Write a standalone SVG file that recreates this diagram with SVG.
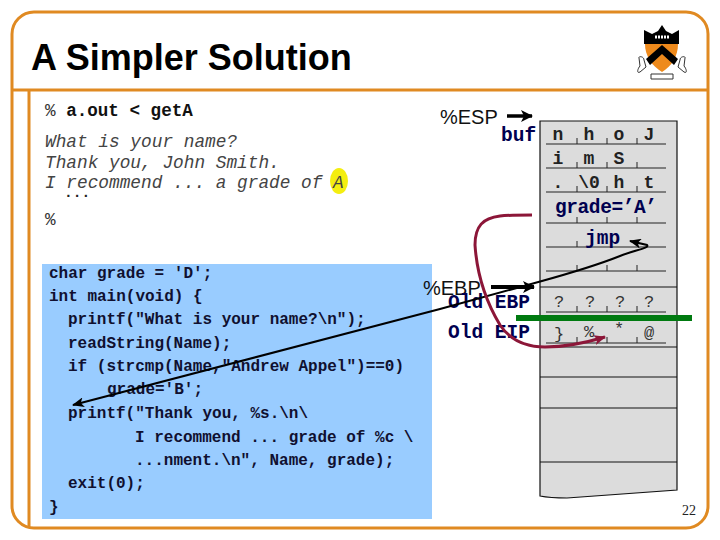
<svg xmlns="http://www.w3.org/2000/svg" width="720" height="540" viewBox="0 0 720 540">
<style>
.frame{fill:none;stroke:#e08a22;stroke-width:3}
.mono{font-family:"Liberation Mono",monospace}
.sans{font-family:"Liberation Sans",Arial,sans-serif}
.code{font-family:"Liberation Mono",monospace;font-size:16px;font-weight:bold;fill:#101030;white-space:pre}
.out{font-family:"Liberation Mono",monospace;font-size:17.8px;font-style:italic;fill:#444}
.navy{font-family:"Liberation Mono",monospace;font-size:19.5px;font-weight:bold;fill:#000050}
.cell{font-family:"Liberation Mono",monospace;font-size:18px;font-weight:bold;fill:#222;text-anchor:middle}
.thin{font-family:"Liberation Mono",monospace;font-size:17px;fill:#333;text-anchor:middle}
.reg{font-family:"Liberation Sans",Arial,sans-serif;font-size:20px;fill:#111}
.full{stroke:#111;stroke-width:1.2;fill:none}
.short{stroke:#222;stroke-width:1;fill:none}
</style>
<defs>
<marker id="blackHead" markerUnits="userSpaceOnUse" markerWidth="12" markerHeight="10" refX="11" refY="5" orient="auto-start-reverse"><path d="M0 0L12 5L0 10L3 5Z" fill="#000"/></marker>
<marker id="thickHead" markerUnits="userSpaceOnUse" markerWidth="12" markerHeight="12" refX="11" refY="6" orient="auto"><path d="M0 0L12 6L0 12L3 6Z" fill="#000"/></marker>
<marker id="redHead" markerUnits="userSpaceOnUse" markerWidth="12" markerHeight="10" refX="11" refY="5" orient="auto"><path d="M0 0L12 5L0 10L3 5Z" fill="#8c1638"/></marker>
</defs>
<rect width="720" height="540" fill="#fff"/>
<g id="frame">
<rect class="frame" x="12" y="12" width="696" height="516" rx="22"/>
<path class="frame" d="M12 90H708M29 90V528"/>
</g>
<text id="title" class="sans" x="31" y="70" font-size="36" font-weight="bold" fill="#000">A Simpler Solution</text>
<g id="logo">
<path d="M644 30L652 34L658 31L662 25L666 31L672 34L679 30V44H644Z" fill="#000"/>
<path d="M645 44H678C678 56 672 66 662 72C652 66 645 56 645 44Z" fill="#ee8a1c"/>
<path d="M646 59L662 45L678 59L674 65L662 54L650 65Z" fill="#000"/>
<path d="M655 37H669" stroke="#fff" stroke-width="3" stroke-dasharray="2 1"/>
<path d="M639 58C638 56 644 56 644 60L646 67L640 72C636 74 638 68 640 66ZM685 58C686 56 680 56 680 60L678 67L684 72C688 74 686 68 684 66ZM651 74H673V79H651Z" fill="#fff" stroke="#333" stroke-width="1"/>
</g>
<g id="terminal">
<ellipse cx="339" cy="181" rx="9" ry="13" fill="#f4ee10"/>
<text class="mono" x="45" y="116" font-size="17.6" fill="#333">% <tspan font-weight="bold" fill="#111">a.out &lt; getA</tspan></text>
<text class="out" x="45" y="147">What is your name?</text>
<text class="out" x="45" y="168">Thank you, John Smith.</text>
<text class="out" x="45" y="188">I recommend ... a grade of A</text>
<text class="mono" x="64" y="197" font-size="14.5" font-weight="bold" fill="#222">...</text>
<text class="mono" x="45" y="225" font-size="17.6" fill="#333">%</text>
</g>
<g id="code">
<rect x="42" y="264" width="390" height="255" fill="#99ccff"/>
<text class="code" x="49" y="278">char grade = 'D';</text>
<text class="code" x="49" y="301">int main(void) {</text>
<text class="code" x="68" y="324">printf("What is your name?\n");</text>
<text class="code" x="68" y="348">readString(Name);</text>
<text class="code" x="68" y="371">if (strcmp(Name,"Andrew Appel")==0)</text>
<text class="code" x="107" y="394">grade='B';</text>
<text class="code" x="68" y="418">printf("Thank you, %s.\n\</text>
<text class="code" x="135" y="442">I recommend ... grade of %c \</text>
<text class="code" x="135" y="465">...nment.\n", Name, grade);</text>
<text class="code" x="68" y="488">exit(0);</text>
<text class="code" x="49" y="512">}</text>
</g>
<g id="stack">
<path d="M540 121H677V490L567 498Q550 498 540 496Z" fill="#dcdcdc" stroke="#111" stroke-width="1.2"/>
<path class="full" d="M540 287H677M540 347H677M540 377H677M540 408H677M540 462H677"/>
<path class="short" d="M546 144H666M546 168H666M546 192H666M546 223H666M546 247H666M546 271H666M546 312H666M546 343H666"/>
<path class="short" d="M577 138V144M607 138V144M637 138V144M577 162V168M607 162V168M637 162V168M577 186V192M607 186V192M637 186V192M577 217V223M607 217V223M637 217V223M577 241V247M577 265V271M607 265V271M637 265V271M577 306V312M607 306V312M637 306V312M577 337V343M607 337V343M637 337V343"/>
<text class="cell" x="558" y="140">n</text><text class="cell" x="589" y="140">h</text><text class="cell" x="619" y="140">o</text><text class="cell" x="649" y="140">J</text>
<text class="cell" x="558" y="164">i</text><text class="cell" x="589" y="164">m</text><text class="cell" x="619" y="164">S</text>
<text class="cell" x="558" y="188">.</text><text class="cell" x="589" y="188">\0</text><text class="cell" x="619" y="188">h</text><text class="cell" x="649" y="188">t</text>
<text class="navy" x="555" y="213" textLength="102">grade=’A’</text>
<text class="navy" x="585" y="244">jmp</text>
<text class="thin" x="559" y="307">?</text><text class="thin" x="590" y="307">?</text><text class="thin" x="620" y="307">?</text><text class="thin" x="649" y="307">?</text>
<text class="thin" x="559" y="339">}</text><text class="thin" x="589" y="337">%</text><text class="thin" x="619" y="334">*</text><text class="thin" x="649" y="338">@</text>
</g>
<g id="labels">
<text class="reg" x="440" y="124">%ESP</text>
<text class="navy" x="501" y="141">buf</text>
<text class="reg" x="423" y="295">%EBP</text>
<text class="navy" x="448" y="308">Old EBP</text>
<text class="navy" x="448" y="338">Old EIP</text>
<text id="page" x="682" y="515" font-family="Liberation Serif,serif" font-size="14" fill="#222">22</text>
</g>
<rect id="green-bar" x="516" y="315" width="176" height="6" fill="#007a10"/>
<g id="connectors" fill="none">
<path d="M507 116H532" stroke="#000" stroke-width="3.500" marker-end="url(#thickHead)"/>
<path d="M491 287H534" stroke="#000" stroke-width="4" marker-end="url(#thickHead)"/>
<path d="M73 405L440 309L533 283.500C560 276 590 268 620 256C635 250 650 248 647 245L630 241" stroke="#000" stroke-width="2" marker-start="url(#blackHead)" marker-end="url(#blackHead)"/>
<path d="M532 215C518 215 508 215 500 216C483 218 475 226 475 245C477 275 485 300 500 325C510 340 525 347 545 347C565 347 585 343 605 337" stroke="#8c1638" stroke-width="3" marker-end="url(#redHead)"/>
</g>
</svg>
